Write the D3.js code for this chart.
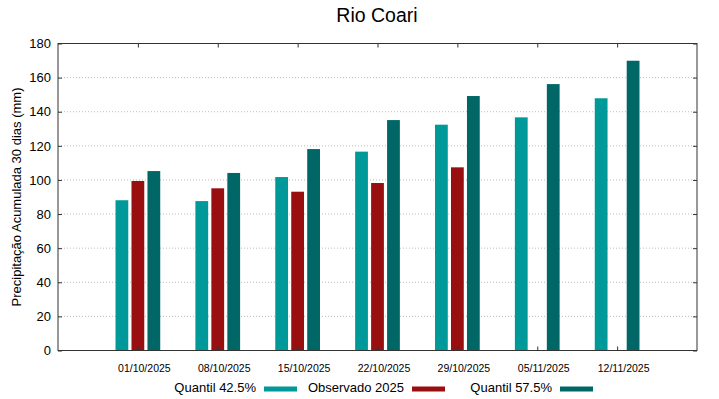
<!DOCTYPE html>
<html>
<head>
<meta charset="utf-8">
<script src="https://cdn.jsdelivr.net/npm/d3@7"></script>
<style>
  body { margin: 0; background: #fff; }
  svg { display: block; font-family: "Liberation Sans", Arial, sans-serif; }
</style>
</head>
<body>
<svg id="chart"></svg>
<script>
// Data
const dates = ["01/10/2025", "08/10/2025", "15/10/2025", "22/10/2025", "29/10/2025", "05/11/2025", "12/11/2025"];
const quantil425 = [88.1, 87.6, 101.7, 116.6, 132.4, 136.7, 147.9];
const observado = [99.4, 95.1, 93.1, 98.2, 107.4, null, null];
const quantil575 = [105.2, 104.1, 118.1, 135.1, 149.2, 156.2, 169.9];
const yTicks = [0, 20, 40, 60, 80, 100, 120, 140, 160, 180];

const seriesNames = ["Quantil 42.5%", "Observado 2025", "Quantil 57.5%"];
const seriesValues = [quantil425, observado, quantil575];
const colors = ["#009999", "#990f0f", "#006666"];
const offsets = [-0.2, 0, 0.2]; // bar offset within a group, in category units

// Configurations
let width = 719
let height = 399
let marginLeft = 58
let marginRight = 22
let marginTop = 43.5
let marginBottom = 48.5
let barWidth = 0.16

const svg = d3.select("#chart")
    .attr("width", width)
    .attr("height", height)
    .attr("viewBox", [0, 0, width, height]);

const xScale = d3.scaleLinear([-1, dates.length], [marginLeft, width - marginRight]);
const yScale = d3.scaleLinear([0, 180], [height - marginBottom, marginTop]);

// grid lines
svg.append("g")
    .selectAll("line")
    .data(yTicks.filter(d => d > 0 && d < 180))
    .join("line")
    .attr("x1", marginLeft)
    .attr("x2", width - marginRight)
    .attr("y1", d => yScale(d))
    .attr("y2", d => yScale(d))
    .attr("stroke", "#aaa")
    .attr("stroke-width", 0.8)
    .attr("stroke-dasharray", "1,2");

// bars
svg.append("g")
    .selectAll("g")
    .data(seriesValues)
    .join("g")
    .attr("fill", (d, s) => colors[s])
    .selectAll("rect")
    .data((d, s) => d.map((v, i) => ({v, i, s})).filter(e => e.v != null))
    .join("rect")
    .attr("x", d => xScale(d.i + offsets[d.s] - barWidth / 2))
    .attr("width", xScale(barWidth) - xScale(0))
    .attr("y", d => yScale(d.v))
    .attr("height", d => yScale(0) - yScale(d.v));

// axes (ticks inward, mirrored)
const yAxis = d3.axisLeft(yScale).tickValues(yTicks).tickSize(-4).tickPadding(7);
svg.append("g")
    .attr("transform", `translate(${marginLeft},0)`)
    .call(yAxis)
    .call(g => g.select(".domain").remove())
    .call(g => g.selectAll("text").attr("font-size", 13).attr("fill", "#000"));

svg.append("g")
    .attr("transform", `translate(${width - marginRight},0)`)
    .call(d3.axisRight(yScale).tickValues(yTicks).tickSize(-4).tickFormat(""))
    .call(g => g.select(".domain").remove());

const xAxis = d3.axisBottom(xScale)
    .tickValues(d3.range(dates.length))
    .tickFormat(i => dates[i])
    .tickSize(-4)
    .tickPadding(14);
svg.append("g")
    .attr("transform", `translate(0,${height - marginBottom})`)
    .call(xAxis)
    .call(g => g.select(".domain").remove())
    .call(g => g.selectAll("text").attr("font-size", 10.5).attr("fill", "#000").attr("dx", 6));

svg.append("g")
    .attr("transform", `translate(0,${marginTop})`)
    .call(d3.axisTop(xScale).tickValues(d3.range(dates.length)).tickSize(-4).tickFormat(""))
    .call(g => g.select(".domain").remove());

svg.selectAll(".tick line").attr("stroke", "#333");

// frame
svg.append("rect")
    .attr("x", marginLeft)
    .attr("y", marginTop)
    .attr("width", width - marginLeft - marginRight)
    .attr("height", height - marginTop - marginBottom)
    .attr("fill", "none")
    .attr("stroke", "#333")
    .attr("stroke-width", 1);

// title
svg.append("text")
    .attr("x", 377)
    .attr("y", 22)
    .attr("text-anchor", "middle")
    .attr("font-size", 19.5)
    .text("Rio Coari");

// y label
svg.append("text")
    .attr("transform", `translate(21,${(marginTop + height - marginBottom) / 2}) rotate(-90)`)
    .attr("text-anchor", "middle")
    .attr("font-size", 13)
    .text("Precipitação Acumulada 30 dias (mm)");

// legend
const legendX = [256, 404, 552]; // right edge of each label
const legend = svg.append("g")
    .selectAll("g")
    .data(seriesNames)
    .join("g")
    .attr("transform", (d, i) => `translate(${legendX[i]},389)`);
legend.append("text")
    .attr("text-anchor", "end")
    .attr("y", 3)
    .attr("font-size", 13)
    .text(d => d);
legend.append("rect")
    .attr("x", 8)
    .attr("y", -2.5)
    .attr("width", 33)
    .attr("height", 5)
    .attr("fill", (d, i) => colors[i]);
</script>
</body>
</html>
